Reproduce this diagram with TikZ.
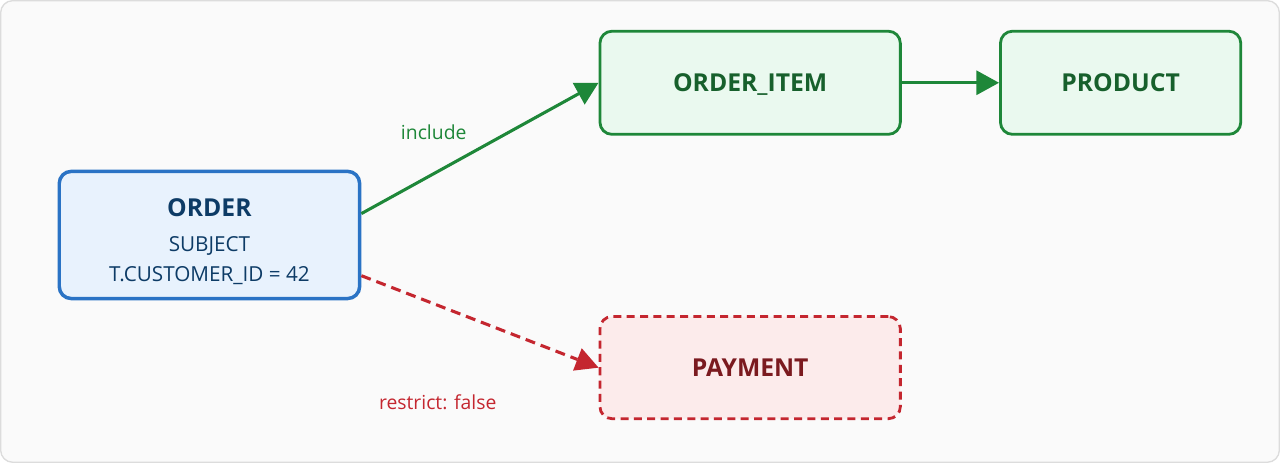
\documentclass[tikz,border=0pt]{standalone}
\usepackage{fontspec}
\setmainfont{Open Sans}
\usetikzlibrary{arrows.meta}
\definecolor{framefill}{HTML}{FAFAFA}
\definecolor{frameline}{HTML}{DCDCDC}
\definecolor{subjline}{HTML}{2A73C5}
\definecolor{subjfill}{HTML}{E8F2FD}
\definecolor{subjtext}{HTML}{0D3B66}
\definecolor{incline}{HTML}{1E8739}
\definecolor{incfill}{HTML}{EAF9EF}
\definecolor{inctext}{HTML}{17602C}
\definecolor{resline}{HTML}{C4262F}
\definecolor{resfill}{HTML}{FCEBEB}
\definecolor{restext}{HTML}{7B1A1F}
\tikzset{
  entity/.style={draw, rounded corners=9pt, line width=2.1pt},
  titlefont/.style={font=\fontsize{18.5}{22}\selectfont\bfseries},
  subjbox/.style={entity, draw=subjline, fill=subjfill, line width=2.6pt,
    minimum width=225pt, minimum height=95.25pt},
  incbox/.style={entity, draw=incline, fill=incfill, titlefont, text=inctext,
    minimum height=77.25pt, text depth=0pt},
  resbox/.style={entity, draw=resline, fill=resfill, dash pattern=on 6pt off 4pt,
    minimum width=225pt, minimum height=76.5pt, titlefont, text=restext, text depth=0pt},
  edgelabel/.style={font=\fontsize{14.5}{17}\selectfont},
  incedge/.style={draw=incline, line width=2.3pt,
    -{Triangle[length=17pt,width=18pt]}},
  resedge/.style={draw=resline, line width=2.3pt, dash pattern=on 7.5pt off 4.5pt,
    -{Triangle[length=17pt,width=18pt,fill=resline,line width=0pt]}},
}
\begin{document}
\begin{tikzpicture}[x=0.75pt,y=-0.75pt]
\draw[draw=frameline, fill=framefill, line width=1pt, rounded corners=9pt]
  (1.5,1.5) rectangle (1278.5,462.5);

\node (order) at (210,235.5) [subjbox] {};
\node (ordername) at (210,208) [titlefont, text=subjtext] {ORDER};
\node (orderrole) at (210,246.5) [font=\fontsize{15.5}{18}\selectfont, text=subjtext] {SUBJECT};
\node (orderfilter) at (210,276) [font=\fontsize{15.5}{18}\selectfont, text=subjtext] {T.CUSTOMER\_ID = 42};

\node (item) at (750,83.5) [incbox, minimum width=225pt] {ORDER\_ITEM};
\node (product) at (1120,83.5) [incbox, minimum width=180pt] {PRODUCT};
\node (payment) at (750,368) [resbox] {PAYMENT};

\draw[incedge] (order.8.2) to (item.west);
\draw[incedge] (item.east) to (product.west);
\draw[resedge] (order.-15.5) to (payment.west);

\node (inclabel) at (434,133) [edgelabel, text=incline] {include};
\node (reslabel) at (438,403) [edgelabel, text=resline] {restrict: false};
\end{tikzpicture}
\end{document}
